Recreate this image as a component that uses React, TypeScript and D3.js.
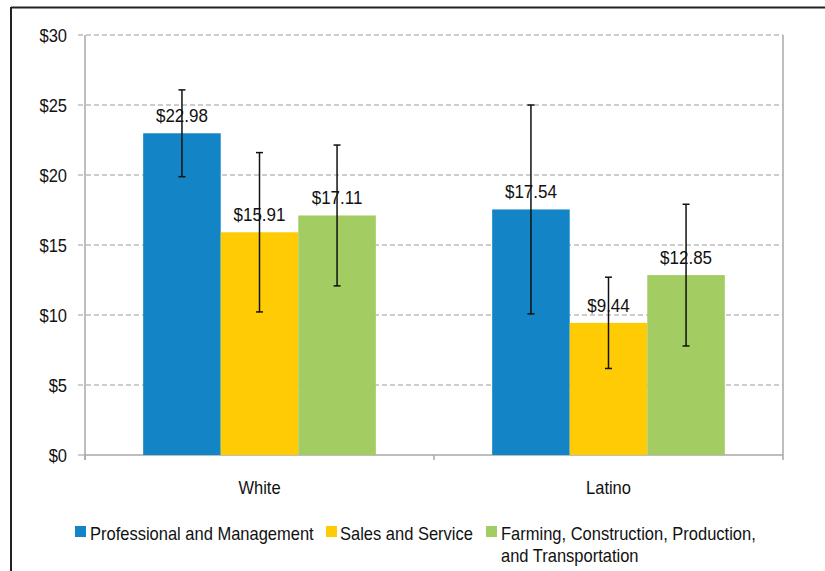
import React from "react";
import * as d3 from "d3";

const categories = ["White", "Latino"];
const seriesNames = [
  "Professional and Management",
  "Sales and Service",
  "Farming, Construction, Production, and Transportation",
];
const professional = [22.98, 17.54];
const sales = [15.91, 9.44];
const farming = [17.11, 12.85];
const professionalErr = [3.1, 7.46];
const salesErr = [5.69, 3.26];
const farmingErr = [5.03, 5.06];
const yTicks = [0, 5, 10, 15, 20, 25, 30];
const colors = ["#1384C6", "#FFCB05", "#A3CD62"];

const W = 825;
const H = 571;
const left = 85;
const right = 783;
const top = 35;
const bottom = 455;
const FONT = "'Liberation Sans', Arial, sans-serif";
const SY = 1.13;

function T({ x, y, anchor = "start", size = 16.5, dy = 0, children }: any) {
  return (
    <g transform={`translate(${x},${y}) scale(1,${SY})`}>
      <text x={0} y={0} dy={dy} textAnchor={anchor} fontSize={size} fill="#111">
        {children}
      </text>
    </g>
  );
}

export default function App() {
  const values = [professional, sales, farming];
  const errs = [professionalErr, salesErr, farmingErr];
  const x0 = d3.scaleBand<string>().domain(categories).range([left, right]).paddingInner(0).paddingOuter(0);
  const x1 = d3
    .scaleBand<number>()
    .domain([0, 1, 2])
    .range([0, x0.bandwidth()])
    .paddingOuter(0.75)
    .paddingInner(0);
  const y = d3.scaleLinear().domain([0, 30]).range([bottom, top]);
  const fmt = (v: number) => "$" + v.toFixed(2);

  const legendItems = [
    { sx: 75, tx: 90, lines: ["Professional and Management"] },
    { sx: 326, tx: 340, lines: ["Sales and Service"] },
    { sx: 486, tx: 501, lines: ["Farming, Construction, Production,", "and Transportation"] },
  ];

  return (
    <svg
      width={W}
      height={H}
      style={{ position: "absolute", left: 0, top: 0, background: "#fff" }}
      fontFamily={FONT}
    >
      <rect x={0} y={0} width={W} height={H} fill="#fff" />
      {/* outer frame */}
      <line x1={11} y1={7.5} x2={W} y2={7.5} stroke="#222" strokeWidth={2} />
      <line x1={11} y1={7} x2={11} y2={H} stroke="#222" strokeWidth={2} />

      {/* gridlines */}
      {yTicks.map((t) => (
        <g key={t}>
          {t > 0 && (
            <line
              x1={78}
              x2={right}
              y1={y(t)}
              y2={y(t)}
              stroke="#9a9a9a"
              strokeWidth={1}
              strokeDasharray="5,3"
            />
          )}
          {t === 0 && <line x1={78} x2={left} y1={y(t)} y2={y(t)} stroke="#9a9a9a" />}
          <T x={67} y={y(t) + 6.5} anchor="end">
            ${t}
          </T>
        </g>
      ))}
      {/* plot borders */}
      <line x1={right} x2={right} y1={top} y2={bottom} stroke="#a8a8a8" strokeWidth={1.5} />
      <line x1={left} x2={left} y1={top} y2={bottom + 5} stroke="#a8a8a8" strokeWidth={1.5} />
      <line x1={left} x2={right} y1={bottom} y2={bottom} stroke="#a8a8a8" strokeWidth={1.5} />
      {[left, left + x0.bandwidth(), right].map((xx, i) => (
        <line key={i} x1={xx} x2={xx} y1={bottom} y2={bottom + 5} stroke="#a8a8a8" strokeWidth={1.5} />
      ))}

      {/* bars */}
      {categories.map((c, ci) => (
        <g key={c} transform={`translate(${x0(c)},0)`}>
          {values.map((vals, si) => {
            const bx = x1(si)!;
            const bw = x1.bandwidth();
            return (
              <rect
                key={si}
                x={bx}
                y={y(vals[ci])}
                width={bw}
                height={bottom - y(vals[ci])}
                fill={colors[si]}
              />
            );
          })}
          {values.map((vals, si) => {
            const cx = x1(si)! + x1.bandwidth() / 2;
            return (
              <T key={"l" + si} x={cx} y={y(vals[ci]) - 11} anchor="middle" size={17}>
                {fmt(vals[ci])}
              </T>
            );
          })}
          {values.map((vals, si) => {
            const cx = x1(si)! + x1.bandwidth() / 2;
            const hi = y(vals[ci] + errs[si][ci]);
            const lo = y(vals[ci] - errs[si][ci]);
            return (
              <g key={"e" + si} stroke="#111" strokeWidth={1.5}>
                <line x1={cx} x2={cx} y1={hi} y2={lo} />
                <line x1={cx - 3.5} x2={cx + 3.5} y1={hi} y2={hi} />
                <line x1={cx - 3.5} x2={cx + 3.5} y1={lo} y2={lo} />
              </g>
            );
          })}
          <T x={x0.bandwidth() / 2} y={494} anchor="middle">
            {c}
          </T>
        </g>
      ))}

      {/* legend */}
      {legendItems.map((it, i) => (
        <g key={i}>
          <rect x={it.sx} y={526} width={11} height={11} fill={colors[i]} />
          {it.lines.map((ln, li) => (
            <T key={li} x={it.tx} y={540 + li * 22}>
              {ln}
            </T>
          ))}
        </g>
      ))}
      <title>{seriesNames.join(", ")}</title>
    </svg>
  );
}
